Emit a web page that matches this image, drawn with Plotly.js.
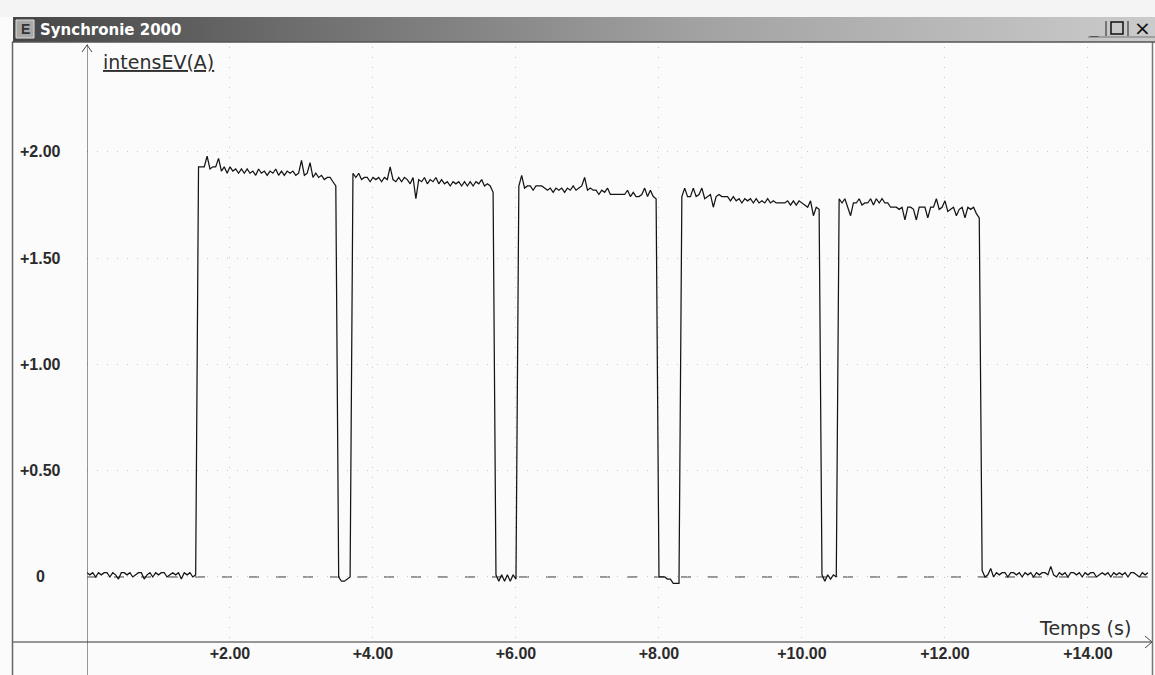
<!DOCTYPE html>
<html><head><meta charset="utf-8">
<script src="https://cdn.plot.ly/plotly-3.0.1.min.js"></script>
<style>html,body{margin:0;padding:0;background:#fbfbfb;}#chart{width:1155px;height:675px;}</style>
</head><body><div id="chart"></div>
<script>
// ---- data ----
const sampleStep = 0.04; // s
const segmentStarts = [0.00, 1.56, 3.52, 3.72, 5.72, 6.04, 8.00, 8.32, 10.28, 10.52, 12.52];
const off0 = [0.02,0.01,0.02,0.00,0.02,0.01,0.02,0.02,0.00,0.02,0.01,-0.01,0.02,0.02,0.01,0.02,0.00,0.01,0.02,0.02,-0.01,0.01,0.02,0.00,0.02,0.01,0.02,0.02,0.00,0.01,0.02,0.01,0.02,-0.01,0.02,0.01,0.02,0.00,0.01];
const on1 = [1.93,1.93,1.93,1.98,1.92,1.93,1.93,1.97,1.91,1.93,1.90,1.93,1.91,1.92,1.90,1.92,1.90,1.92,1.90,1.91,1.89,1.92,1.90,1.91,1.89,1.91,1.90,1.92,1.89,1.91,1.89,1.91,1.90,1.91,1.89,1.90,1.96,1.89,1.90,1.95,1.88,1.90,1.88,1.89,1.87,1.88,1.88,1.86,1.84];
const low1 = [0.00,-0.02,-0.02,-0.01,0.00];
const on2 = [1.90,1.88,1.90,1.87,1.88,1.88,1.86,1.88,1.87,1.88,1.86,1.88,1.87,1.93,1.87,1.86,1.88,1.86,1.88,1.87,1.85,1.88,1.78,1.87,1.86,1.88,1.85,1.87,1.86,1.88,1.85,1.87,1.85,1.86,1.84,1.86,1.85,1.86,1.84,1.86,1.84,1.86,1.84,1.86,1.85,1.87,1.84,1.85,1.84,1.81];
const low2 = [0.01,-0.02,0.01,-0.02,0.01,-0.02,0.01,-0.01];
const on3 = [1.84,1.89,1.83,1.84,1.84,1.82,1.84,1.84,1.84,1.83,1.82,1.83,1.81,1.83,1.82,1.83,1.81,1.83,1.82,1.84,1.82,1.83,1.84,1.88,1.82,1.83,1.82,1.82,1.80,1.82,1.81,1.83,1.80,1.80,1.80,1.80,1.80,1.80,1.82,1.79,1.81,1.79,1.79,1.80,1.83,1.79,1.82,1.79,1.78];
const low3 = [0.00,0.00,0.00,-0.01,-0.01,-0.03,-0.03,-0.03];
const on4 = [1.79,1.83,1.79,1.79,1.83,1.79,1.80,1.83,1.78,1.79,1.80,1.74,1.79,1.80,1.79,1.79,1.79,1.77,1.79,1.77,1.78,1.76,1.78,1.77,1.78,1.76,1.78,1.76,1.77,1.76,1.78,1.76,1.77,1.76,1.76,1.76,1.76,1.77,1.75,1.77,1.75,1.77,1.76,1.75,1.74,1.77,1.70,1.74,1.73];
const low4 = [0.01,-0.02,0.01,-0.01,0.01,0.00];
const on5 = [1.78,1.76,1.78,1.74,1.70,1.76,1.76,1.78,1.75,1.76,1.76,1.78,1.75,1.78,1.76,1.78,1.76,1.76,1.74,1.74,1.74,1.73,1.74,1.68,1.74,1.74,1.73,1.68,1.74,1.74,1.74,1.69,1.74,1.74,1.78,1.73,1.74,1.77,1.72,1.73,1.74,1.70,1.73,1.74,1.69,1.74,1.73,1.74,1.71,1.69];
const off5 = [0.03,0.00,0.01,0.04,0.00,0.02,0.01,0.02,0.02,0.00,0.02,0.02,0.01,0.02,0.00,0.02,0.01,0.02,0.00,0.02,0.01,0.02,0.02,0.01,0.05,0.01,0.00,0.02,0.01,0.02,0.00,0.02,0.02,0.01,0.02,0.00,0.02,0.01,0.02,0.02,0.00,0.01,0.02,0.01,0.02,0.00,0.02,0.01,0.02,0.01,0.02,0.00,0.02,0.02,0.01,0.00,0.02,0.01,0.02];
const segments = [off0,on1,low1,on2,low2,on3,low3,on4,low4,on5,off5];

const xTickVals = [2,4,6,8,10,12,14];
const xTickText = ['+2.00','+4.00','+6.00','+8.00','+10.00','+12.00','+14.00'];
const yTickVals = [2,1.5,1,0.5,0];
const yTickText = ['+2.00','+1.50','+1.00','+0.50','0'];
const xRange = [0, 14.84];
const yRange = [-0.306, 2.494];

// ---- build trace ----
const t = [], v = [];
segments.forEach((seg, j) => {
  seg.forEach((val, k) => {
    t.push(+(segmentStarts[j] + k * sampleStep).toFixed(2));
    v.push(val);
  });
});

// ---- layout helpers (pixel -> paper) ----
const L = 87, W = 1061, B = 642, H = 595;
const px = x => (x - L) / W;
const py = y => (B - y) / H;

const tickFont = {family: 'Arial, "Liberation Sans", sans-serif', size: 16, color: '#2b2b2b', weight: 'bold'};
const axisTitleFont = {family: '"DejaVu Sans", sans-serif', size: 19, color: '#2e2e2e'};

const barSvg = "<svg xmlns='http://www.w3.org/2000/svg' width='1142' height='25' preserveAspectRatio='none'>" +
  "<defs><linearGradient id='g' x1='0' x2='1' y1='0' y2='0'>" +
  "<stop offset='0' stop-color='#454545'/><stop offset='0.25' stop-color='#6e6e6e'/>" +
  "<stop offset='0.6' stop-color='#a2a2a2'/><stop offset='1' stop-color='#cbcbcb'/></linearGradient></defs>" +
  "<rect width='1142' height='25' fill='url(#g)'/></svg>";

const line = (x0, y0, x1, y1, color, width) => ({type: 'line', xref: 'paper', yref: 'paper',
  x0: px(x0), y0: py(y0), x1: px(x1), y1: py(y1), line: {color: color, width: width}});

const shapes = [
  // top strip above title bar
  {type: 'rect', xref: 'paper', yref: 'paper', x0: px(0), x1: px(1155), y0: py(17), y1: py(0), fillcolor: '#f4f4f4', line: {width: 0}},
  // dashed zero line
  {type: 'line', xref: 'x', yref: 'y', x0: xRange[0], x1: xRange[1], y0: 0, y1: 0, layer: 'below',
   line: {color: '#3a3a3a', width: 1, dash: '10px,17px'}},
  // vertical axis
  {type: 'line', xref: 'x', yref: 'paper', x0: 0, x1: 0, y0: py(675), y1: py(44), line: {color: '#333', width: 1}},
  line(82, 52, 87, 45, '#444', 1), line(87, 45, 92, 52, '#444', 1),
  // horizontal axis
  line(12, 642, 1152, 642, '#333', 1),
  line(1145, 636, 1152, 642, '#444', 1), line(1145, 648, 1152, 642, '#444', 1),
  // window borders
  line(12.5, 42, 12.5, 675, '#666', 1.5),
  line(1152.5, 42, 1152.5, 675, '#777', 1.5),
  line(12, 42, 1155, 42, '#555', 1.5),
  // icon
  {type: 'rect', xref: 'paper', yref: 'paper', x0: px(16), x1: px(34), y0: py(38), y1: py(20), fillcolor: '#a8a8a8', line: {color: '#ddd', width: 1}},
  // window buttons
  line(1106, 21, 1106, 36, '#222', 1),
  {type: 'rect', xref: 'paper', yref: 'paper', x0: px(1111), x1: px(1123), y0: py(34), y1: py(22), line: {color: '#111', width: 1.5}},
  line(1128, 21, 1128, 36, '#222', 1),
  line(1088, 37, 1155, 37, '#777', 1)
];

const annotations = [
  {xref: 'paper', yref: 'paper', x: px(38), y: py(30), xanchor: 'left', yanchor: 'middle', showarrow: false,
   text: 'Synchronie 2000', font: {family: '"DejaVu Sans", sans-serif', size: 15, color: '#ffffff', weight: 'bold'}},
  {xref: 'paper', yref: 'paper', x: px(25), y: py(29), xanchor: 'center', yanchor: 'middle', showarrow: false,
   text: 'E', font: {family: 'Arial', size: 14, color: '#333', weight: 'bold'}},
  {xref: 'paper', yref: 'paper', x: px(1094), y: py(29), xanchor: 'center', yanchor: 'middle', showarrow: false,
   text: '_', font: {family: 'Arial', size: 15, color: '#111', weight: 'bold'}},
  {xref: 'paper', yref: 'paper', x: px(1142), y: py(28), xanchor: 'center', yanchor: 'middle', showarrow: false,
   text: '×', font: {family: '"DejaVu Sans", sans-serif', size: 20, color: '#111'}},
  {xref: 'paper', yref: 'paper', x: px(101), y: py(62), xanchor: 'left', yanchor: 'middle', showarrow: false,
   text: '<u>intensEV(A)</u>', font: axisTitleFont},
  {xref: 'paper', yref: 'paper', x: px(1133), y: py(628), xanchor: 'right', yanchor: 'middle', showarrow: false,
   text: 'Temps (s)', font: axisTitleFont}
];
yTickVals.forEach((val, i) => annotations.push({
  xref: 'paper', yref: 'y', x: px(40), y: val, xanchor: 'center', yanchor: 'middle', showarrow: false,
  text: yTickText[i], font: tickFont
}));

const layout = {
  width: 1155, height: 675,
  margin: {l: L, r: 1155 - L - W, t: 47, b: 675 - B},
  paper_bgcolor: '#fbfbfb', plot_bgcolor: 'rgba(0,0,0,0)',
  showlegend: false,
  xaxis: {range: xRange, tickmode: 'array', tickvals: xTickVals, ticktext: xTickText, ticks: '',
    showline: false, zeroline: false, showgrid: true, gridcolor: '#c8c8c8', gridwidth: 1, griddash: '1px,9px',
    tickfont: tickFont, fixedrange: true},
  yaxis: {range: yRange, tickmode: 'array', tickvals: yTickVals, showticklabels: false, ticks: '',
    showline: false, zeroline: false, showgrid: true, gridcolor: '#c8c8c8', gridwidth: 1, griddash: '1px,9px',
    fixedrange: true},
  shapes: shapes,
  annotations: annotations,
  images: [{source: 'data:image/svg+xml;charset=utf-8,' + encodeURIComponent(barSvg),
    xref: 'paper', yref: 'paper', x: px(13), y: py(17), sizex: 1142 / W, sizey: 25 / H,
    xanchor: 'left', yanchor: 'top', sizing: 'stretch', layer: 'below'}]
};

const trace = {x: t, y: v, type: 'scatter', mode: 'lines', line: {color: '#141414', width: 1.25}, hoverinfo: 'skip'};

Plotly.newPlot('chart', [trace], layout, {displayModeBar: false, staticPlot: true});
</script>
</body></html>
